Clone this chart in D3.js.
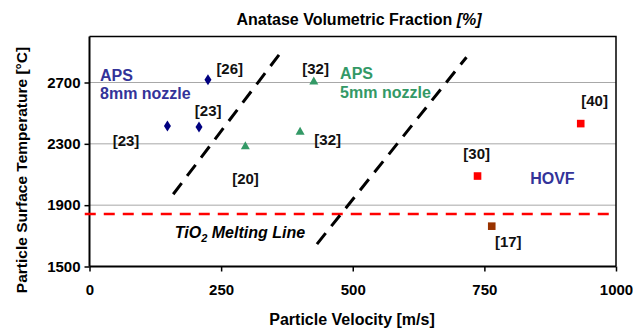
<!DOCTYPE html>
<html>
<head>
<meta charset="utf-8">
<script src="https://cdn.jsdelivr.net/npm/d3@7"></script>
<style>
  body { margin: 0; background: #fff; }
  text { font-family: "Liberation Sans", Arial, Helvetica, sans-serif; font-weight: bold; }
</style>
</head>
<body>
<div id="chart"></div>
<script>
// data: velocity [m/s], temperature [C]
var aps8 = [[148, 2417], [208, 2410], [225, 2718]];
var aps5 = [[296, 2288], [400, 2382], [426, 2710]];
var hovf = [[933, 2432], [737, 2090]];
var other = [[764, 1763]];
var meltingTemp = 1843;
var boundary1 = [[159, 1971], [368, 2917]];
var boundary2 = [[432, 1646], [716, 2865]];
var xTicks = [0, 250, 500, 750, 1000];
var yTicks = [1500, 1900, 2300, 2700];
var refLabels = [
  ['[26]', 241, 2757], ['[23]', 200, 2480], ['[23]', 44, 2289],
  ['[20]', 271, 2037], ['[32]', 404, 2757], ['[32]', 427, 2291],
  ['[40]', 934, 2548], ['[30]', 710, 2202], ['[17]', 770, 1629]
];
var groupLabels = [
  ['APS', 20, 2711, '#333399'], ['8mm nozzle', 20, 2592, '#333399'],
  ['APS', 476, 2724, '#339966'], ['5mm nozzle', 476, 2602, '#339966'],
  ['HOVF', 837, 2040, '#333399']
];

var attrs = {
  svgWidth: 633,
  svgHeight: 328,
  marginTop: 36.5,
  marginLeft: 89.5,
  marginRight: 17,
  marginBottom: 61.5
};

var calc = {};
calc.chartWidth = attrs.svgWidth - attrs.marginLeft - attrs.marginRight;
calc.chartHeight = attrs.svgHeight - attrs.marginTop - attrs.marginBottom;

var x = d3.scaleLinear().domain([0, 1000]).range([0, calc.chartWidth]);
var y = d3.scaleLinear().domain([1500, 3000]).range([calc.chartHeight, 0]);

var svg = d3.select('#chart').append('svg')
  .attr('width', attrs.svgWidth)
  .attr('height', attrs.svgHeight);

svg.append('text')
  .attr('x', 359)
  .attr('y', 25)
  .attr('text-anchor', 'middle')
  .attr('font-size', 16)
  .text('Anatase Volumetric Fraction ')
  .append('tspan').attr('font-style', 'italic').text('[%]');

var chart = svg.append('g')
  .attr('transform', 'translate(' + attrs.marginLeft + ',' + attrs.marginTop + ')');

// gridlines
chart.append('g').selectAll('line')
  .data(yTicks.filter(d => d > 1500))
  .enter().append('line')
  .attr('x1', 0).attr('x2', calc.chartWidth)
  .attr('y1', d => y(d)).attr('y2', d => y(d))
  .attr('stroke', '#a8a8a8').attr('stroke-width', 1);

// frame top/right
chart.append('path')
  .attr('d', 'M0,0H' + calc.chartWidth + 'V' + calc.chartHeight)
  .attr('fill', 'none').attr('stroke', '#000').attr('stroke-width', 1.5);

var xAxis = chart.append('g')
  .attr('transform', 'translate(0,' + calc.chartHeight + ')')
  .call(d3.axisBottom(x).tickValues(xTicks).tickFormat(d3.format('d')).tickSize(5).tickPadding(13));
var yAxis = chart.append('g')
  .call(d3.axisLeft(y).tickValues(yTicks).tickFormat(d3.format('d')).tickSize(5).tickPadding(4));

[xAxis, yAxis].forEach(function (a) {
  a.select('.domain').attr('stroke-width', 2);
  a.selectAll('.tick line').attr('stroke-width', 1.5);
  a.selectAll('.tick text').attr('font-size', 15).attr('fill', '#000')
    .attr('font-family', '"Liberation Sans", Arial, sans-serif');
});
xAxis.select('.domain').attr('d', 'M0,0H' + calc.chartWidth);
yAxis.select('.domain').attr('d', 'M0,0V' + calc.chartHeight);

// axis titles
svg.append('text')
  .attr('x', 352)
  .attr('y', 324.5)
  .attr('text-anchor', 'middle')
  .attr('font-size', 16)
  .text('Particle Velocity [m/s]');

svg.append('text')
  .attr('transform', 'translate(27,170) rotate(-90)')
  .attr('text-anchor', 'middle')
  .attr('font-size', 15.5)
  .text('Particle Surface Temperature [°C]');

// melting line
chart.append('line')
  .attr('x1', x(-9)).attr('x2', x(1000))
  .attr('y1', y(meltingTemp)).attr('y2', y(meltingTemp))
  .attr('stroke', '#ff0000').attr('stroke-width', 2.5)
  .attr('stroke-dasharray', '11,8');

// boundaries
var line = d3.line().x(d => x(d[0])).y(d => y(d[1]));
[boundary1, boundary2].forEach(function (b) {
  chart.append('path')
    .attr('d', line(b))
    .attr('fill', 'none').attr('stroke', '#000').attr('stroke-width', 3)
    .attr('stroke-dasharray', '14,9');
});

// markers
chart.append('g').selectAll('path')
  .data(aps8).enter().append('path')
  .attr('transform', d => 'translate(' + x(d[0]) + ',' + y(d[1]) + ')')
  .attr('d', 'M0,-5.5L3.5,0L0,5.5L-3.5,0Z')
  .attr('fill', '#000080');

chart.append('g').selectAll('path')
  .data(aps5).enter().append('path')
  .attr('transform', d => 'translate(' + x(d[0]) + ',' + y(d[1]) + ')')
  .attr('d', 'M0,-4.5L4.5,3.5L-4.5,3.5Z')
  .attr('fill', '#339966');

chart.append('g').selectAll('rect')
  .data(hovf).enter().append('rect')
  .attr('x', d => x(d[0]) - 3.8).attr('y', d => y(d[1]) - 3.8)
  .attr('width', 7.6).attr('height', 7.6)
  .attr('fill', '#ff0000');

chart.append('g').selectAll('rect')
  .data(other).enter().append('rect')
  .attr('x', d => x(d[0]) - 3.8).attr('y', d => y(d[1]) - 3.8)
  .attr('width', 7.6).attr('height', 7.6)
  .attr('fill', '#993300');

// labels
chart.append('g').selectAll('text')
  .data(refLabels).enter().append('text')
  .attr('x', d => x(d[1])).attr('y', d => y(d[2]))
  .attr('font-size', 15).attr('fill', '#111')
  .text(d => d[0]);

chart.append('g').selectAll('text')
  .data(groupLabels).enter().append('text')
  .attr('x', d => x(d[1])).attr('y', d => y(d[2]))
  .attr('font-size', 16).attr('fill', d => d[3])
  .text(d => d[0]);

var melt = chart.append('text')
  .attr('x', x(162)).attr('y', y(1689))
  .attr('font-size', 16).attr('font-style', 'italic').attr('fill', '#000');
melt.append('tspan').text('TiO');
melt.append('tspan').attr('font-size', 11).attr('dy', 4).text('2');
melt.append('tspan').attr('dy', -4).text(' Melting Line');
</script>
</body>
</html>
